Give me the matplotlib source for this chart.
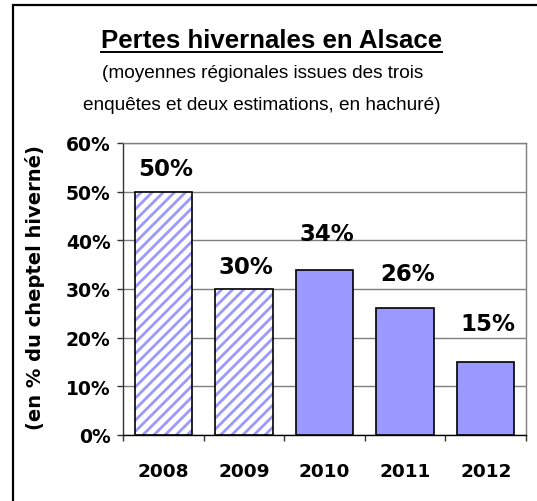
import matplotlib
matplotlib.use("Agg")
import matplotlib.pyplot as plt
from matplotlib.patches import Rectangle
from matplotlib.lines import Line2D
import numpy as np

# data
years = ['2008', '2009', '2010', '2011', '2012']
losses = [50, 30, 34, 26, 15]
estimated = [True, True, False, False, False]   # hatched = estimation
labels = ['50%', '30%', '34%', '26%', '15%']
yticks = [0, 10, 20, 30, 40, 50, 60]

# style
label_offsets_px = [23, 22, 36, 35, 38]  # Excel put the labels oddly high
bar_color = '#9999ff'
grid_color = '#7f7f7f'
plt.rcParams['hatch.linewidth'] = 2.0

W, H = 537, 502
fig = plt.figure(figsize=(W / 100, H / 100), dpi=100)
fig.patch.set_facecolor('white')

# outer frame (right and bottom edges run off the picture)
fig.patches.append(Rectangle((13 / W, -0.1), 1.2, 1.1 - 5.5 / H,
                             transform=fig.transFigure, fill=False,
                             edgecolor='black', linewidth=1.6))

ax = fig.add_axes([123 / W, 1 - 436 / H, (526 - 123) / W, (436 - 144) / H])
x = np.arange(len(years))

for xi, val, est in zip(x, losses, estimated):
    if est:
        ax.bar(xi, val, width=0.71, color='white', edgecolor=bar_color,
               hatch='///', linewidth=0, zorder=3)
        ax.bar(xi, val, width=0.71, facecolor='none', edgecolor='black',
               linewidth=1.2, zorder=4)
    else:
        ax.bar(xi, val, width=0.71, color=bar_color, edgecolor='black',
               linewidth=1.2, zorder=3)

for xi, val, lab, off in zip(x, losses, labels, label_offsets_px):
    ax.annotate(lab, (xi, val), xytext=(1.5, off * 0.72), textcoords='offset points',
                ha='center', va='center', fontsize=16.5, fontweight='bold',
                family='DejaVu Sans')

ax.set_xlim(-0.5, len(years) - 0.5)
ax.set_ylim(0, 60)
ax.set_yticks(yticks)
ax.set_yticklabels([f'{v}%' for v in yticks], fontsize=13.5, fontweight='bold',
                   family='DejaVu Sans')
ax.set_xticks(x)
ax.set_xticklabels(years, fontsize=13.3, fontweight='bold', family='DejaVu Sans')
ax.set_xticks(np.arange(len(years) + 1) - 0.5, minor=True)
ax.tick_params(axis='x', which='major', length=0, pad=19.5)
ax.tick_params(axis='x', which='minor', length=4, width=1, color='#333333', direction='out')
ax.tick_params(axis='y', length=4, width=1, color='#333333', direction='out', pad=5)

ax.yaxis.grid(True, color=grid_color, linewidth=1, zorder=0)
ax.set_axisbelow(True)
ax.spines['top'].set_color(grid_color)
ax.spines['right'].set_color(grid_color)
ax.spines['left'].set_color('#333333')
ax.spines['bottom'].set_color('black')
for s in ax.spines.values():
    s.set_linewidth(1)

fig.text(35 / W, 1 - 288 / H, '(en % du cheptel hiverné)', rotation=90,
         ha='center', va='center', fontsize=14, fontweight='bold',
         family='DejaVu Sans')

title = fig.text(0.5 * (100 + 443) / W, 1 - 41 / H, 'Pertes hivernales en Alsace',
                 ha='center', va='center', fontsize=18.6, fontweight='bold',
                 family='Liberation Sans')
fig.text(0.5 * (98 + 427) / W, 1 - 74 / H, '(moyennes régionales issues des trois',
         ha='center', va='center', fontsize=13.7, family='Liberation Sans')
fig.text(0.5 * (85 + 438) / W, 1 - 106 / H, 'enquêtes et deux estimations, en hachuré)',
         ha='center', va='center', fontsize=13.7, family='Liberation Sans')

# underline the title
fig.canvas.draw()
bb = title.get_window_extent().transformed(fig.transFigure.inverted())
fig.lines.append(Line2D([bb.x0, bb.x1], [1 - 52.5 / H] * 2, transform=fig.transFigure,
                        color='black', linewidth=1.4))

fig.savefig('out.png', dpi=100)
